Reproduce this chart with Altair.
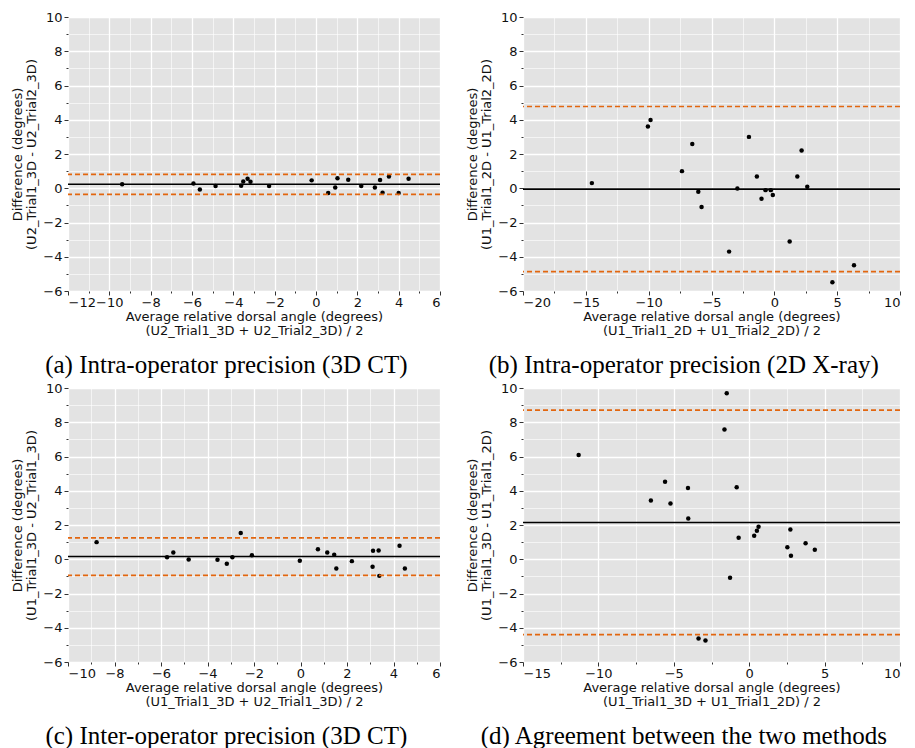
import altair as alt
import pandas as pd

# Panel (a) Intra-operator precision (3D CT)
a_x = [-9.38, -5.93, -5.62, -4.86, -3.62, -3.52, -3.31, -3.17, -2.27, -0.21, 0.59,
       0.93, 1.04, 1.56, 2.19, 2.85, 3.10, 3.22, 3.53, 4.00, 4.48]
a_y = [0.23, 0.28, -0.07, 0.13, 0.15, 0.40, 0.56, 0.38, 0.13, 0.46, -0.28,
       0.05, 0.58, 0.50, 0.13, 0.05, 0.48, -0.26, 0.69, -0.28, 0.56]
a_lines = [0.23, 0.81, -0.36]

# Panel (b) Intra-operator precision (2D X-ray)
b_x = [-14.52, -10.06, -9.85, -7.35, -6.53, -6.05, -5.79, -3.60, -2.94, -2.02, -1.39,
       -1.02, -0.70, -0.28, -0.12, 1.22, 1.83, 2.17, 2.62, 4.62, 6.34]
b_y = [0.30, 3.60, 3.99, 1.00, 2.59, -0.20, -1.10, -3.70, -0.01, 3.00, 0.69,
       -0.61, -0.11, -0.11, -0.40, -3.11, 0.69, 2.20, 0.09, -5.49, -4.50]
b_lines = [-0.05, 4.77, -4.87]

# Panel (c) Inter-operator precision (3D CT)
c_x = [-8.77, -5.74, -5.47, -4.81, -3.57, -3.17, -2.93, -2.57, -2.09, -0.03, 0.75,
       1.15, 1.45, 1.54, 2.21, 3.10, 3.12, 3.36, 3.39, 4.26, 4.49]
c_y = [1.00, 0.12, 0.40, -0.01, -0.03, -0.26, 0.12, 1.53, 0.24, -0.09, 0.59,
       0.40, 0.26, -0.54, -0.11, -0.44, 0.49, 0.51, -0.97, 0.79, -0.54]
c_lines = [0.16, 1.25, -0.94]

# Panel (d) Agreement between the two methods
d_x = [-11.31, -6.52, -5.58, -5.22, -4.06, -4.04, -3.36, -2.90, -1.64, -1.49, -1.27,
       -0.83, -0.70, 0.33, 0.51, 0.62, 2.53, 2.73, 2.77, 3.74, 4.35]
d_y = [6.09, 3.43, 4.52, 3.25, 4.16, 2.38, -4.63, -4.74, 7.58, 9.69, -1.08,
       4.20, 1.25, 1.37, 1.66, 1.90, 0.70, 1.74, 0.21, 0.94, 0.56]
d_lines = [2.15, 8.71, -4.40]

captions = ["(a) Intra-operator precision (3D CT)",
            "(b) Intra-operator precision (2D X-ray)",
            "(c) Inter-operator precision (3D CT)",
            "(d) Agreement between the two methods"]
y_titles = [["Difference (degrees)", "(U2_Trial1_3D - U2_Trial2_3D)"],
            ["Difference (degrees)", "(U1_Trial1_2D - U1_Trial2_2D)"],
            ["Difference (degrees)", "(U1_Trial1_3D - U2_Trial1_3D)"],
            ["Difference (degrees)", "(U1_Trial1_3D - U1_Trial1_2D)"]]
x_titles = [["Average relative dorsal angle (degrees)", "(U2_Trial1_3D + U2_Trial2_3D) / 2"],
            ["Average relative dorsal angle (degrees)", "(U1_Trial1_2D + U1_Trial2_2D) / 2"],
            ["Average relative dorsal angle (degrees)", "(U1_Trial1_3D + U2_Trial1_3D) / 2"],
            ["Average relative dorsal angle (degrees)", "(U1_Trial1_3D + U1_Trial1_2D) / 2"]]
x_domains = [(-12, 6), (-20, 10), (-10, 6), (-15, 10)]
x_major = [2, 5, 2, 5]
y_domain = (-6, 10)

ORANGE = "#e2660f"
FONT = "DejaVu Sans"
FS = 13


def frange(lo, hi, step):
    out = []
    v = lo
    while v <= hi + 1e-9:
        out.append(round(v, 4))
        v += step
    return out


def make_axis(lo, hi, major, title, title_pad, label_pad):
    test = f"abs(datum.value % {major}) < 0.001"
    return alt.Axis(
        values=frange(lo, hi, major / 2),
        labelExpr=f"{test} ? datum.label : ''",
        format=".0f",
        labelOverlap=False,
        grid=True,
        gridColor="white",
        gridWidth={"condition": {"test": test, "value": 1.3}, "value": 0.6},
        tickSize={"condition": {"test": test, "value": 4}, "value": 2},
        tickColor="#333333",
        domain=False,
        labelFont=FONT,
        labelFontSize=FS,
        labelColor="#111111",
        labelPadding=label_pad,
        title=title,
        titleFont=FONT,
        titleFontSize=FS,
        titleFontWeight="normal",
        titleColor="#111111",
        titlePadding=title_pad,
        titleLineHeight=14,
    )


def panel(i, xs, ys, lines, width):
    lo, hi = x_domains[i]
    pts = pd.DataFrame({"x": xs, "y": ys})
    xsc = alt.Scale(domain=[lo, hi], nice=False, zero=False)
    ysc = alt.Scale(domain=list(y_domain), nice=False, zero=False)
    xaxis = make_axis(lo, hi, x_major[i], x_titles[i], 1, 1)
    yaxis = make_axis(y_domain[0], y_domain[1], 2, y_titles[i], 4, 2)

    mean_df = pd.DataFrame({"v": [lines[0]]})
    loa_df = pd.DataFrame({"v": lines[1:]})

    points = alt.Chart(pts).mark_circle(size=20, color="black", opacity=1).encode(
        x=alt.X("x:Q", scale=xsc, axis=xaxis),
        y=alt.Y("y:Q", scale=ysc, axis=yaxis),
    )
    mean_rule = alt.Chart(mean_df).mark_rule(color="black", strokeWidth=1.6).encode(
        y=alt.Y("v:Q", scale=ysc, axis=yaxis)
    )
    loa_rule = alt.Chart(loa_df).mark_rule(color=ORANGE, strokeWidth=1.6, strokeDash=[5, 3]).encode(
        y=alt.Y("v:Q", scale=ysc, axis=yaxis)
    )
    return alt.layer(points, mean_rule, loa_rule).properties(
        width=width,
        height=274,
        title=alt.TitleParams(
            captions[i], orient="bottom", anchor="middle", frame="bounds",
            font="Liberation Serif", fontSize=25, fontWeight="normal", color="black", offset=16,
        ),
    )


pa = panel(0, a_x, a_y, a_lines, 372)
pb = panel(1, b_x, b_y, b_lines, 377)
pc = panel(2, c_x, c_y, c_lines, 372)
pd_ = panel(3, d_x, d_y, d_lines, 377)

chart = alt.vconcat(
    alt.hconcat(pa, pb, spacing=25),
    alt.hconcat(pc, pd_, spacing=25),
    spacing=4,
).configure_view(fill="#e3e3e3", stroke=None).properties(
    background="white",
    padding={"left": 3, "top": 3, "right": 0, "bottom": 0},
)

chart.save("out.html", embed_options={"renderer": "svg", "actions": False})
